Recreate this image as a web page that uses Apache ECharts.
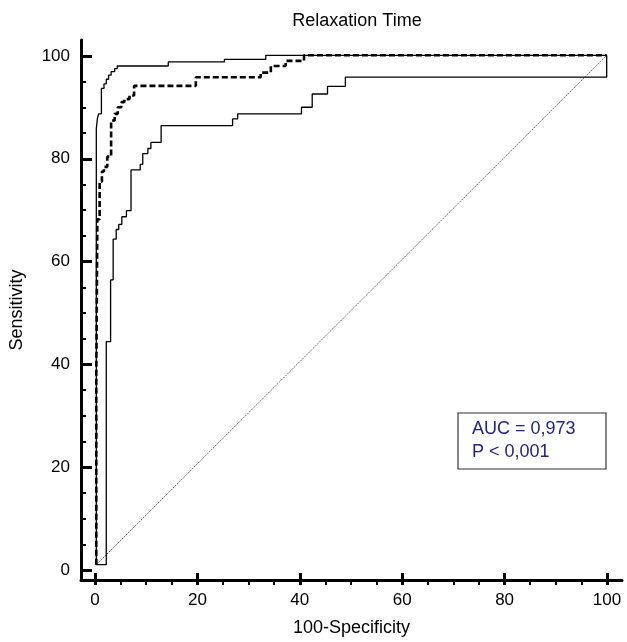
<!DOCTYPE html>
<html>
<head>
<meta charset="utf-8">
<script src="https://cdn.jsdelivr.net/npm/echarts@6/dist/echarts.min.js"></script>
<style>
html,body{margin:0;padding:0;background:#fff;}
#chart{width:627px;height:642px;}
</style>
</head>
<body>
<div id="chart"></div>
<script>
// ---- Data ----
const titleText = 'Relaxation Time';
const xName = '100-Specificity';
const yName = 'Sensitivity';
const aucLines = ['AUC = 0,973', 'P < 0,001'];
const tickValues = [0, 20, 40, 60, 80, 100];

// ROC curve (dashed) corner points
const rocX = [0, 0, 0.2, 0.2, 0.65, 0.65, 1.1, 1.1, 1.5, 1.5, 2.15, 2.15, 2.9, 2.9, 3.6, 3.6, 4.2, 4.2, 4.9, 4.9, 5.5, 5.5, 6.5, 6.5, 7.4, 7.4, 19.5, 19.5, 32.2, 32.2, 34.2, 34.2, 37.1, 37.1, 40.7, 40.7, 100];
const rocY = [0, 37, 37, 67.8, 67.8, 75.2, 75.2, 77.2, 77.2, 78.1, 78.1, 80.1, 80.1, 87.2, 87.2, 88.5, 88.5, 89.8, 89.8, 90.8, 90.8, 91.4, 91.4, 92.1, 92.1, 94.0, 94.0, 95.7, 95.7, 96.6, 96.6, 97.9, 97.9, 98.9, 98.9, 100, 100];

// Upper confidence bound
const upperX = [0, 0, 0.2, 0.2, 0.45, 0.45, 1.0, 1.0, 1.5, 1.5, 1.95, 1.95, 2.4, 2.4, 2.9, 2.9, 3.6, 3.6, 4.1, 4.1, 14.1, 14.1, 25.1, 25.1, 33.2, 33.2, 100];
const upperY = [0, 85.6, 85.6, 87.5, 87.5, 88.5, 88.5, 93.5, 93.5, 94.4, 94.4, 95.3, 95.3, 96.1, 96.1, 96.8, 96.8, 97.4, 97.4, 97.9, 97.9, 98.7, 98.7, 99.2, 99.2, 100, 100];

// Lower confidence bound
const lowerX = [0, 1.95, 1.95, 2.8, 2.8, 3.3, 3.3, 3.9, 3.9, 4.4, 4.4, 5.0, 5.0, 5.9, 5.9, 6.8, 6.8, 8.6, 8.6, 9.1, 9.1, 10.1, 10.1, 10.7, 10.7, 12.7, 12.7, 26.7, 26.7, 27.7, 27.7, 40.2, 40.2, 42.3, 42.3, 45.3, 45.3, 48.8, 48.8, 100, 100];
const lowerY = [0, 0, 43.8, 43.8, 55.9, 55.9, 63.9, 63.9, 65.8, 65.8, 66.8, 66.8, 68.3, 68.3, 69.5, 69.5, 77.5, 77.5, 78.6, 78.6, 80.7, 80.7, 81.7, 81.7, 82.9, 82.9, 86.2, 86.2, 87.5, 87.5, 88.5, 88.5, 89.8, 89.8, 92.4, 92.4, 93.9, 93.9, 95.7, 95.7, 100];

// Reference diagonal
const diagX = [0, 100];
const diagY = [0, 100];

const zip = (xs, ys) => xs.map((x, i) => [x, ys[i]]);

const FONT = "'Liberation Sans', Arial, sans-serif";

const chart = echarts.init(document.getElementById('chart'), null, {renderer: 'canvas'});

const option = {
  backgroundColor: '#ffffff',
  animation: false,
  grid: [
    {left: 80, right: 5, top: 40, bottom: 57},   // axis-line frame (-3..103)
    {left: 95, right: 20, top: 56, bottom: 72}   // tick/label frame (0..100)
  ],
  xAxis: [
    {
      type: 'value', gridIndex: 0, min: -3, max: 103,
      axisLine: {show: true, onZero: false, lineStyle: {color: '#000', width: 3}},
      axisTick: {show: false}, axisLabel: {show: false}, splitLine: {show: false},
      name: xName, nameLocation: 'middle', nameGap: 39,
      nameTextStyle: {color: '#000', fontSize: 18, fontFamily: FONT}
    },
    {
      type: 'value', gridIndex: 1, min: 0, max: 100, interval: 20, offset: 15,
      axisLine: {show: false, onZero: false},
      axisTick: {show: true, inside: true, length: 12, lineStyle: {color: '#000', width: 3}},
      minorTick: {show: true, splitNumber: 4, length: 6, lineStyle: {color: '#000', width: 2}},
      axisLabel: {show: true, margin: 7, color: '#000', fontSize: 17, fontFamily: FONT,
        customValues: tickValues},
      splitLine: {show: false}
    }
  ],
  yAxis: [
    {
      type: 'value', gridIndex: 0, min: -3, max: 103,
      axisLine: {show: true, onZero: false, lineStyle: {color: '#000', width: 3}},
      axisTick: {show: false}, axisLabel: {show: false}, splitLine: {show: false},
      name: yName, nameLocation: 'middle', nameGap: 55, nameRotate: 90,
      nameTextStyle: {color: '#000', fontSize: 18, fontFamily: FONT}
    },
    {
      type: 'value', gridIndex: 1, min: 0, max: 100, interval: 20, offset: 15,
      axisLine: {show: false, onZero: false},
      axisTick: {show: true, inside: true, length: 12, lineStyle: {color: '#000', width: 3}},
      minorTick: {show: true, splitNumber: 4, length: 6, lineStyle: {color: '#000', width: 2}},
      axisLabel: {show: true, margin: 10, color: '#000', fontSize: 17, fontFamily: FONT},
      splitLine: {show: false}
    }
  ],
  series: [
    {
      type: 'line', xAxisIndex: 0, yAxisIndex: 0, data: zip(diagX, diagY),
      symbol: 'none', silent: true, clip: false,
      lineStyle: {color: '#777', width: 1, type: [2, 1]}
    },
    {
      type: 'line', xAxisIndex: 0, yAxisIndex: 0, data: zip(lowerX, lowerY),
      symbol: 'none', clip: false,
      lineStyle: {color: '#000', width: 1.3}
    },
    {
      type: 'line', xAxisIndex: 0, yAxisIndex: 0, data: zip(upperX, upperY),
      symbol: 'none', clip: false,
      lineStyle: {color: '#000', width: 1.3}
    },
    {
      type: 'line', xAxisIndex: 0, yAxisIndex: 0, data: zip(rocX, rocY),
      symbol: 'none', clip: false,
      lineStyle: {color: '#000', width: 2.6, type: [6, 3]}
    }
  ],
  graphic: [
    {
      type: 'text', left: 'auto', x: 357, y: 21,
      style: {text: titleText, fill: '#000', font: '18px ' + FONT, textAlign: 'center', textVerticalAlign: 'middle'}
    },
    {
      type: 'rect', x: 458, y: 413,
      shape: {width: 148, height: 56},
      style: {fill: '#fff', stroke: '#333', lineWidth: 1.2}
    },
    {
      type: 'text', x: 472, y: 429,
      style: {text: aucLines[0], fill: '#22228c', font: '18px ' + FONT, textAlign: 'left', textVerticalAlign: 'middle'}
    },
    {
      type: 'text', x: 472, y: 452,
      style: {text: aucLines[1], fill: '#22228c', font: '18px ' + FONT, textAlign: 'left', textVerticalAlign: 'middle'}
    }
  ]
};

chart.setOption(option);
</script>
</body>
</html>
